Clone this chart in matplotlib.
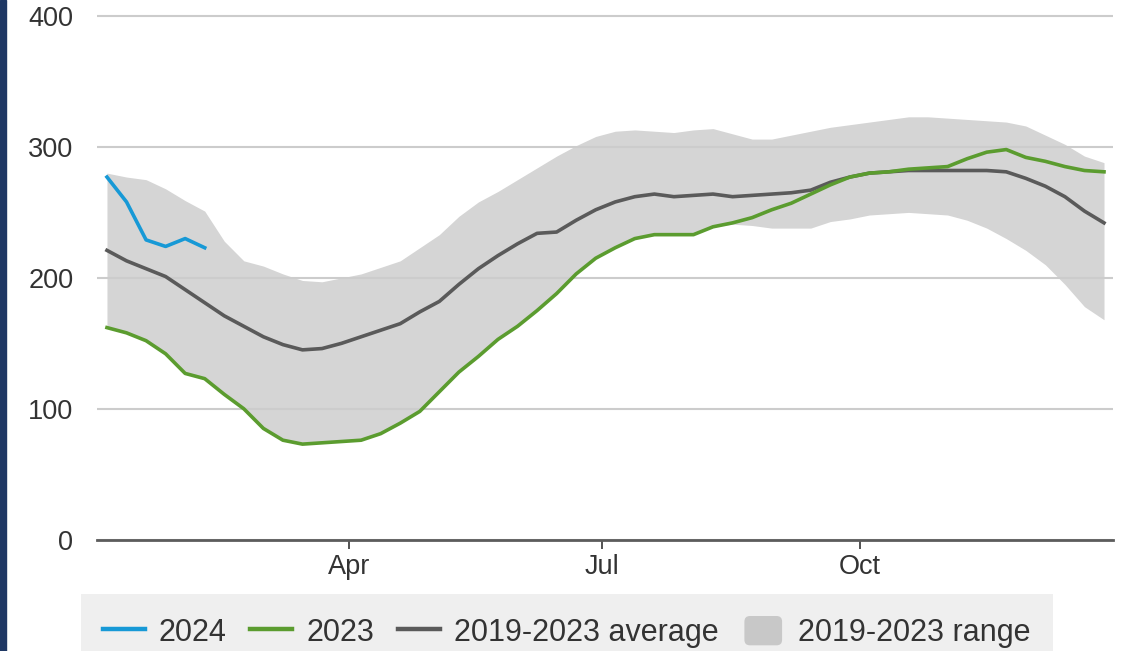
import matplotlib
matplotlib.use("Agg")
import matplotlib.pyplot as plt
from matplotlib.patches import Rectangle, FancyBboxPatch, Patch
from matplotlib.lines import Line2D
from matplotlib.legend_handler import HandlerPatch

plt.rcParams['font.family'] = ['Liberation Sans', 'DejaVu Sans']

# weekly values, week 1..52
weeks = list(range(1, 53))
weeks_2024 = [1, 2, 3, 4, 5, 6]
vals_2024 = [277, 258, 229, 224, 230, 223]
vals_2023 = [162, 158, 152, 142, 127, 123, 111, 100, 85, 76, 73, 74, 75, 76, 81, 89,
             98, 113, 128, 140, 153, 163, 175, 188, 203, 215, 223, 230, 233, 233, 233, 239,
             242, 246, 252, 257, 264, 271, 277, 280, 281, 283, 284, 285, 291, 296, 298, 292,
             289, 285, 282, 281]
avg_5y = [221, 213, 207, 201, 191, 181, 171, 163, 155, 149, 145, 146, 150, 155, 160, 165,
          174, 182, 195, 207, 217, 226, 234, 235, 244, 252, 258, 262, 264, 262, 263, 264,
          262, 263, 264, 265, 267, 273, 277, 280, 281, 282, 282, 282, 282, 282, 281, 276,
          270, 262, 251, 242]
range_hi = [280, 277, 275, 268, 259, 251, 228, 213, 209, 203, 198, 197, 200, 203, 208, 213,
            223, 233, 247, 258, 266, 275, 284, 293, 301, 308, 312, 313, 312, 311, 313, 314,
            310, 306, 306, 309, 312, 315, 317, 319, 321, 323, 323, 322, 321, 320, 319, 316,
            309, 302, 293, 288]
range_lo = [162, 158, 152, 142, 127, 123, 111, 100, 85, 76, 73, 74, 75, 76, 81, 89,
            98, 113, 128, 140, 153, 163, 175, 188, 203, 215, 223, 230, 233, 233, 233, 239,
            241, 240, 238, 238, 238, 243, 245, 248, 249, 250, 249, 248, 244, 238, 230, 221,
            210, 195, 178, 168]

month_pos = [13.4, 26.3, 39.5]
month_lab = ['Apr', 'Jul', 'Oct']
y_ticks = [0, 100, 200, 300, 400]

c_2024 = '#1799d6'
c_2023 = '#5b9c2f'
c_avg = '#5a5a5a'
c_rng = '#d5d5d5'

W, H = 1122, 651
fig = plt.figure(figsize=(W / 100, H / 100), dpi=100)
ax = fig.add_axes([97 / W, 1 - 539.7 / H, (1113 - 97) / W, (539.7 - 13.4) / H])

ax.fill_between(weeks, range_lo, range_hi, color=c_rng, lw=0, zorder=1)
ax.plot(weeks, avg_5y, color=c_avg, lw=2.6, zorder=3)
ax.plot(weeks, vals_2023, color=c_2023, lw=2.6, zorder=4)
ax.plot(weeks_2024, vals_2024, color=c_2024, lw=2.6, zorder=5)

ax.set_xlim(0.49, 52.46)
ax.set_ylim(0, 402)
ax.set_yticks(y_ticks)
ax.set_xticks(month_pos)
ax.set_xticklabels(month_lab)

ax.set_axisbelow(False)
ax.yaxis.grid(True, color='#cccccc', lw=1.5, zorder=2.5)
for s in ['top', 'left', 'right']:
    ax.spines[s].set_visible(False)
ax.spines['bottom'].set_color('#5c5c5c')
ax.spines['bottom'].set_linewidth(2)
ax.spines['bottom'].set_zorder(6)

ax.tick_params(axis='y', length=0, pad=17, labelsize=19.5, labelcolor='#333333')
ax.tick_params(axis='x', length=6.5, width=1.2, color='#333333', pad=4,
               labelsize=19.5, labelcolor='#333333')
for lab in ax.get_yticklabels():
    lab.set_va('center_baseline')

# dark strip on left edge
fig.patches.append(Rectangle((0, 0), 6 / W, 1, transform=fig.transFigure,
                             color='#1f3864', zorder=0))


def rounded_square(legend, orig_handle, xdescent, ydescent, width, height, fontsize):
    return FancyBboxPatch((-xdescent + 1.5, -ydescent), width - 3, height,
                          boxstyle='round,pad=0,rounding_size=4')


handles = [Line2D([], [], color=c_2024, lw=3.2),
           Line2D([], [], color=c_2023, lw=3.2),
           Line2D([], [], color=c_avg, lw=3.2),
           Patch(facecolor='#c8c8c8', edgecolor='none')]
labels = ['2024', '2023', '2019-2023 average', '2019-2023 range']

leg = fig.legend(handles, labels, loc='upper left',
                 bbox_to_anchor=(80.7 / W, 1 - 594 / H), bbox_transform=fig.transFigure,
                 ncol=4, fontsize=22, frameon=True, fancybox=False,
                 facecolor='#efefef', edgecolor='none', framealpha=1,
                 borderpad=0.72, borderaxespad=0, handlelength=1.37, handleheight=1.1,
                 handletextpad=0.46, columnspacing=0.78,
                 handler_map={Patch: HandlerPatch(patch_func=rounded_square)})
for t in leg.get_texts():
    t.set_color('#333333')

fig.savefig('out.png', dpi=100)
